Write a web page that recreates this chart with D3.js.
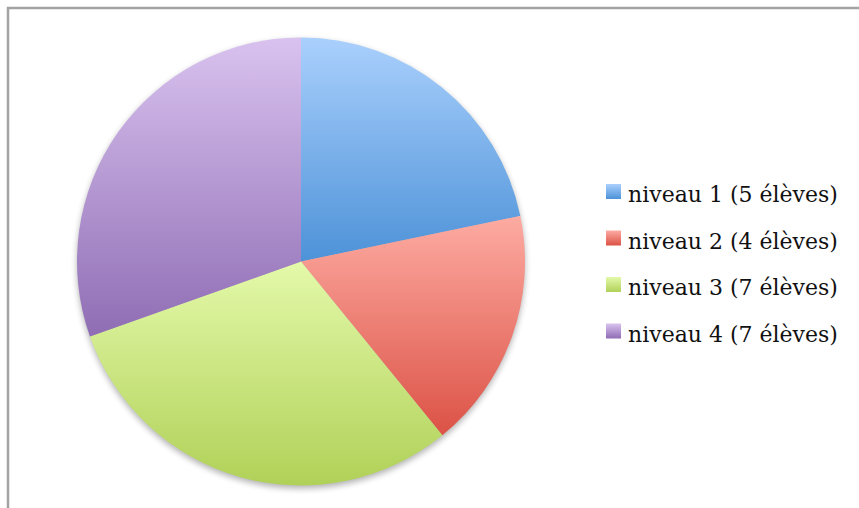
<!DOCTYPE html>
<html>
<head>
<meta charset="utf-8">
<script src="https://cdn.jsdelivr.net/npm/d3@7"></script>
<style>
  html, body { margin: 0; padding: 0; background: #fff; }
  svg { display: block; }
</style>
</head>
<body>
<svg id="chart" width="859" height="508"></svg>
<script>
// Répartition des élèves par niveau
const categories = ["niveau 1", "niveau 2", "niveau 3", "niveau 4"];
const counts = [5, 4, 7, 7];
const legendLabels = ["niveau 1 (5 élèves)", "niveau 2 (4 élèves)", "niveau 3 (7 élèves)", "niveau 4 (7 élèves)"];
const lightColors = ["#aad0fd", "#fdaba2", "#e4f9aa", "#d9c2ef"];
const darkColors  = ["#4d92d8", "#dc5246", "#b0d158", "#8f6db4"];

const svg = d3.select("#chart");
const W = 859, H = 508;

const defs = svg.append("defs");
categories.forEach((c, i) => {
  const g = defs.append("linearGradient")
    .attr("id", "grad" + i)
    .attr("x1", 0).attr("y1", 0).attr("x2", 0).attr("y2", 1);
  g.append("stop").attr("offset", "0%").attr("stop-color", lightColors[i]);
  g.append("stop").attr("offset", "100%").attr("stop-color", darkColors[i]);
});
const shadow = defs.append("filter").attr("id", "shadow")
  .attr("x", "-10%").attr("y", "-10%").attr("width", "120%").attr("height", "125%");
shadow.append("feGaussianBlur").attr("stdDeviation", 3);

// chart frame (open on the right and bottom)
svg.append("path")
  .attr("d", d3.line()([[8, H + 5], [8, 8], [W + 5, 8]]))
  .attr("fill", "none")
  .attr("stroke", "#a3a3a3")
  .attr("stroke-width", 2.5);

const cx = 301, cy = 261.5, r = 224;
const pie = d3.pie().sort(null).value(d => d)(counts);
const arc = d3.arc().innerRadius(0).outerRadius(r);

const g = svg.append("g").attr("transform", `translate(${cx},${cy})`);

g.append("circle")
  .attr("cx", 0).attr("cy", 3).attr("r", r)
  .attr("fill", "#000").attr("opacity", 0.3)
  .attr("filter", "url(#shadow)");

g.selectAll("path.slice")
  .data(pie)
  .join("path")
  .attr("class", "slice")
  .attr("d", arc)
  .attr("fill", (d, i) => `url(#grad${i})`);

// legend
const legend = svg.append("g").attr("transform", "translate(606,184)");
const rowH = 46.5;
const rows = legend.selectAll("g")
  .data(legendLabels)
  .join("g")
  .attr("transform", (d, i) => `translate(0,${i * rowH})`);
rows.append("rect")
  .attr("width", 15).attr("height", 15)
  .attr("fill", (d, i) => `url(#grad${i})`);
rows.append("text")
  .attr("x", 22).attr("y", 18)
  .attr("font-family", "'DejaVu Serif', serif")
  .attr("font-size", 22)
  .attr("fill", "#111")
  .text(d => d);
</script>
</body>
</html>
